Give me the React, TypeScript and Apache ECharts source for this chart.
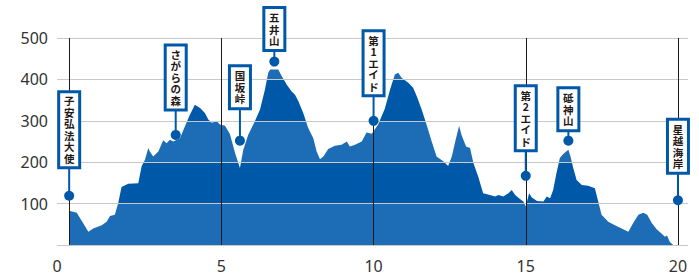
import React, { useEffect, useRef } from "react";
import * as echarts from "echarts";

// Elevation profile (distance km, elevation m)
const KM = [0, 0.25, 0.63, 0.79, 1.07, 1.23, 1.34, 1.5, 1.61, 1.72, 1.94, 2.27, 2.38, 2.49, 2.6, 2.65, 2.76, 2.93, 3.09, 3.2, 3.31, 3.42, 3.64, 3.8, 3.97, 4.13, 4.3, 4.46, 4.57, 4.68, 4.85, 4.95, 5.12, 5.28, 5.45, 5.61, 5.72, 5.88, 6.1, 6.27, 6.43, 6.54, 6.6, 6.87, 6.98, 7.15, 7.31, 7.42, 7.53, 7.69, 7.85, 8.02, 8.13, 8.24, 8.35, 8.51, 8.73, 8.95, 9.12, 9.22, 9.39, 9.61, 9.77, 9.94, 10.15, 10.37, 10.54, 10.7, 10.81, 10.92, 11.14, 11.3, 11.42, 11.58, 11.74, 11.91, 12.07, 12.29, 12.45, 12.57, 12.67, 12.81, 12.89, 13.04, 13.17, 13.28, 13.44, 13.6, 13.82, 13.99, 14.1, 14.26, 14.43, 14.54, 14.65, 14.81, 14.92, 15.0, 15.11, 15.2, 15.37, 15.58, 15.69, 15.8, 15.9, 16.01, 16.12, 16.23, 16.4, 16.47, 16.56, 16.67, 16.84, 17.05, 17.27, 17.38, 17.49, 17.71, 17.93, 18.15, 18.37, 18.53, 18.7, 18.86, 18.99, 19.14, 19.3, 19.46, 19.57, 19.64, 19.73, 19.84];
const ELEV = [83, 78, 32, 40, 48, 56, 70, 73, 101, 140, 148, 149, 190, 206, 234, 226, 214, 226, 253, 246, 254, 250, 258, 286, 315, 339, 331, 319, 303, 295, 299, 291, 288, 268, 222, 186, 230, 266, 299, 327, 375, 416, 424, 424, 408, 387, 371, 363, 347, 319, 283, 258, 226, 207, 214, 232, 240, 242, 250, 238, 242, 250, 272, 269, 291, 329, 375, 412, 416, 404, 392, 380, 359, 327, 291, 250, 214, 202, 191, 214, 246, 288, 266, 238, 234, 198, 165, 125, 121, 117, 121, 117, 125, 133, 121, 111, 105, 93, 125, 115, 106, 105, 117, 113, 133, 174, 210, 220, 230, 214, 186, 157, 145, 143, 137, 105, 73, 56, 48, 40, 32, 53, 73, 78, 73, 53, 38, 28, 20, 23, 8, 0];

// Course landmarks
const MARKER_NAMES = ["子安弘法大使", "さがらの森", "国坂峠", "五井山", "第1エイド", "第2エイド", "砥神山", "星越海岸"];
const MARKER_KM = [0, 3.5, 5.61, 6.74, 10, 15, 16.4, 20];
const MARKER_ELEV = [119, 266, 252, 443, 300, 167, 252, 108];

// Axis ticks
const X_TICKS = [0, 5, 10, 15, 20];
const Y_TICKS = [0, 100, 200, 300, 400, 500];

// Layout: stem length (px) between label box and dot
const STEM_PX = [28, 25, 32, 11, 25, 25, 10, 27];

const LIGHT = "#1d6db6";
const DARK = "#0058a9";

export default function App() {
  const ref = useRef<HTMLDivElement>(null);
  useEffect(() => {
    const chart = echarts.init(ref.current!, null, { renderer: "svg" });
    const profile = KM.map((k, i) => [k, ELEV[i]]);
    const markers = MARKER_KM.map((k, i) => [k, MARKER_ELEV[i]]);
    const pieces = Y_TICKS.map((v, i) => ({
      gte: i === 0 ? -1000 : v,
      lt: i === Y_TICKS.length - 1 ? 10000 : Y_TICKS[i + 1],
      color: i % 2 === 0 ? LIGHT : DARK,
    }));
    const LH = 11.5;
    chart.setOption({
      animation: false,
      grid: { left: 57, right: 11, top: 38, bottom: 34 },
      xAxis: {
        type: "value",
        min: -0.4,
        max: 20.33,
        axisLine: { show: false },
        axisTick: { show: false },
        splitLine: { show: false },
        axisLabel: {
          customValues: [-0.4, 5, 10, 15, 20],
          formatter: (v: number) => (v < 0 ? "0" : String(v)),
          fontSize: 16,
          fontFamily: "Noto Sans",
          color: "#333",
          margin: 13,
        },
      },
      yAxis: {
        type: "value",
        min: 0,
        max: 500,
        interval: 100,
        axisLine: { show: false },
        axisTick: { show: false },
        splitLine: { show: false },
        axisLabel: {
          fontSize: 16,
          fontFamily: "Noto Sans",
          color: "#333",
          margin: 9,
          showMinLabel: false,
        },
      },
      visualMap: {
        show: false,
        type: "piecewise",
        seriesIndex: 0,
        dimension: 1,
        pieces,
      },
      series: [
        {
          type: "line",
          data: profile,
          showSymbol: false,
          symbol: "none",
          lineStyle: { width: 0 },
          areaStyle: { opacity: 1 },
          silent: true,
          markLine: {
            silent: true,
            symbol: ["none", "none"],
            label: { show: false },
            data: [
              ...Y_TICKS.map((v) => ({ yAxis: v, lineStyle: { color: "#c8c8c8", width: 1, type: "solid" } })),
              ...X_TICKS.map((v) => ({ xAxis: v, lineStyle: { color: "#1a1a1a", width: 1, type: "solid" } })),
            ],
          },
        },
        {
          type: "custom",
          z: 10,
          clip: false,
          silent: true,
          data: markers,
          renderItem: (params: any, api: any) => {
            const i = params.dataIndex;
            const pt = api.coord([api.value(0), api.value(1)]);
            const chars = Array.from(MARKER_NAMES[i]);
            const h = chars.length * 11 + 10;
            const bottom = pt[1] - STEM_PX[i];
            const top = bottom - h;
            const textTop = top + (h - chars.length * LH) / 2;
            return {
              type: "group",
              children: [
                {
                  type: "line",
                  shape: { x1: pt[0], y1: pt[1], x2: pt[0], y2: bottom },
                  style: { stroke: DARK, lineWidth: 2 },
                },
                {
                  type: "rect",
                  shape: { x: pt[0] - 10.5, y: top, width: 21, height: h },
                  style: { fill: "#fff", stroke: DARK, lineWidth: 3 },
                },
                ...chars.map((c, j) => ({
                  type: "text",
                  x: pt[0],
                  y: textTop + LH * (j + 0.5),
                  style: {
                    text: c,
                    fill: "#231815",
                    fontSize: 10.5,
                    fontWeight: "bold",
                    fontFamily: "Noto Sans CJK JP",
                    align: "center",
                    verticalAlign: "middle",
                  },
                })),
                {
                  type: "circle",
                  shape: { cx: pt[0], cy: pt[1], r: 5 },
                  style: { fill: DARK },
                },
              ],
            };
          },
        },
      ],
    });
    return () => chart.dispose();
  }, []);
  return <div ref={ref} style={{ width: 699, height: 279, position: "absolute", left: 0, top: 0 }} />;
}
